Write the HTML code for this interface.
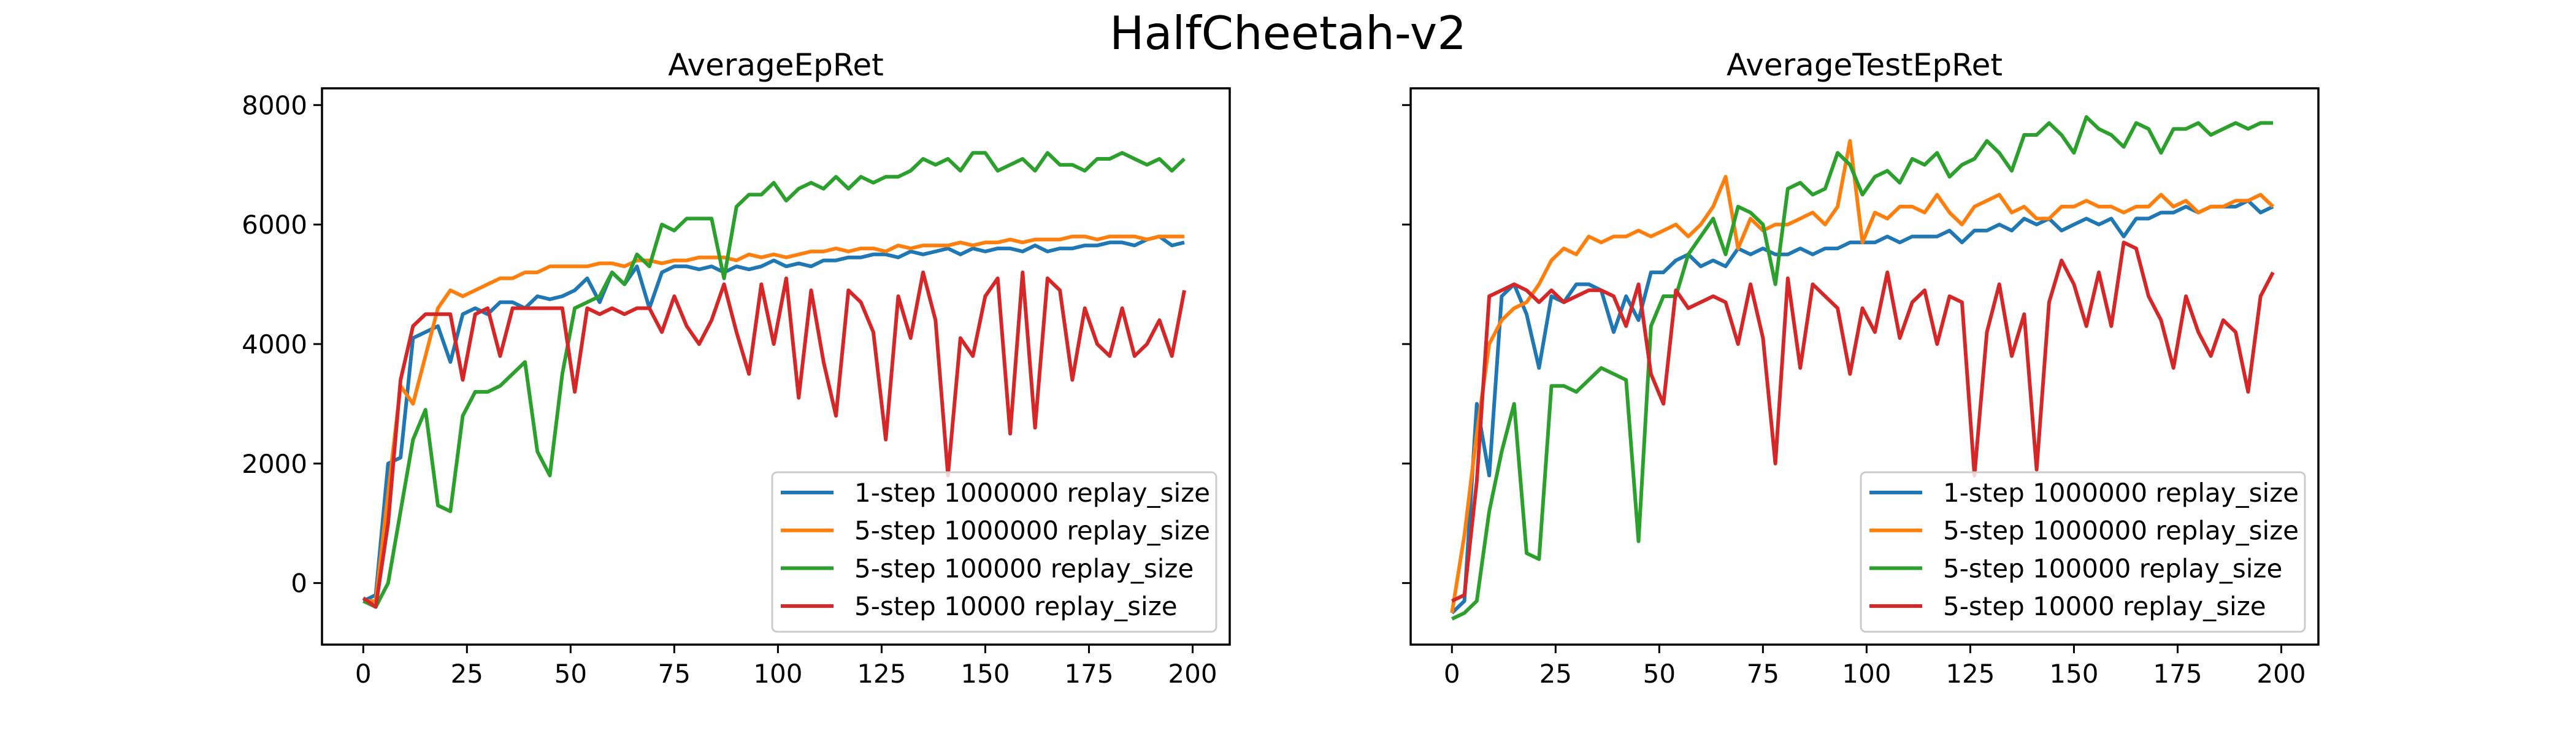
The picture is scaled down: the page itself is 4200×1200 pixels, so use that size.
<!DOCTYPE html>
<html><head><meta charset="utf-8"><style>
html,body{margin:0;padding:0;background:#fff;}
svg{display:block;font-family:"DejaVu Sans","Liberation Sans",sans-serif;}
</style></head><body>
<svg id="chart" width="4200" height="1200" viewBox="0 0 4200 1200" xmlns="http://www.w3.org/2000/svg">
<rect width="4200" height="1200" fill="#fff"/>
<text x="2100" y="80" font-size="75" text-anchor="middle">HalfCheetah-v2</text>
</svg>
<script>
const xs = [0,3,6,9,12,15,18,21,24,27,30,33,36,39,42,45,48,51,54,57,60,63,66,69,72,75,78,81,84,87,90,93,96,99,102,105,108,111,114,117,120,123,126,129,132,135,138,141,144,147,150,153,156,159,162,165,168,171,174,177,180,183,186,189,192,195,198];
const seriesNames = ["1-step 1000000 replay_size","5-step 1000000 replay_size","5-step 100000 replay_size","5-step 10000 replay_size"];
const colors = ["#1f77b4","#ff7f0e","#2ca02c","#d62728"];
const yTicks = [0,2000,4000,6000,8000];
const xTicks = [0,25,50,75,100,125,150,175,200];
const trainBlue = [-300,-200,2000,2100,4100,4200,4300,3700,4500,4600,4500,4700,4700,4600,4800,4750,4800,4900,5100,4700,5200,5000,5300,4600,5200,5300,5300,5250,5300,5200,5300,5250,5300,5400,5300,5350,5300,5400,5400,5450,5450,5500,5500,5450,5550,5500,5550,5600,5500,5600,5550,5600,5600,5550,5650,5550,5600,5600,5650,5650,5700,5700,5650,5750,5800,5650,5700];
const trainOrange = [-300,-300,1500,3300,3000,3800,4600,4900,4800,4900,5000,5100,5100,5200,5200,5300,5300,5300,5300,5350,5350,5300,5400,5400,5350,5400,5400,5450,5450,5450,5400,5500,5450,5500,5450,5500,5550,5550,5600,5550,5600,5600,5550,5650,5600,5650,5650,5650,5700,5650,5700,5700,5750,5700,5750,5750,5750,5800,5800,5750,5800,5800,5800,5750,5800,5800,5800];
const trainGreen = [-300,-400,0,1200,2400,2900,1300,1200,2800,3200,3200,3300,3500,3700,2200,1800,3500,4600,4700,4800,5200,5000,5500,5300,6000,5900,6100,6100,6100,5100,6300,6500,6500,6700,6400,6600,6700,6600,6800,6600,6800,6700,6800,6800,6900,7100,7000,7100,6900,7200,7200,6900,7000,7100,6900,7200,7000,7000,6900,7100,7100,7200,7100,7000,7100,6900,7100];
const trainRed = [-250,-400,1000,3400,4300,4500,4500,4500,3400,4500,4600,3800,4600,4600,4600,4600,4600,3200,4600,4500,4600,4500,4600,4600,4200,4800,4300,4000,4400,5000,4200,3500,5000,4000,5100,3100,4900,3700,2800,4900,4700,4200,2400,4800,4100,5200,4400,1800,4100,3800,4800,5100,2500,5200,2600,5100,4900,3400,4600,4000,3800,4600,3800,4000,4400,3800,4900];
const testBlue = [-500,-300,3000,1800,4800,5000,4500,3600,4800,4700,5000,5000,4900,4200,4800,4400,5200,5200,5400,5500,5300,5400,5300,5600,5500,5600,5500,5500,5600,5500,5600,5600,5700,5700,5700,5800,5700,5800,5800,5800,5900,5700,5900,5900,6000,5900,6100,6000,6100,5900,6000,6100,6000,6100,5800,6100,6100,6200,6200,6300,6200,6300,6300,6300,6400,6200,6300];
const testOrange = [-500,800,2500,4000,4400,4600,4700,5000,5400,5600,5500,5800,5700,5800,5800,5900,5800,5900,6000,5800,6000,6300,6800,5600,6100,5900,6000,6000,6100,6200,6000,6300,7400,5700,6200,6100,6300,6300,6200,6500,6200,6000,6300,6400,6500,6200,6300,6100,6100,6300,6300,6400,6300,6300,6200,6300,6300,6500,6300,6400,6200,6300,6300,6400,6400,6500,6300];
const testGreen = [-600,-500,-300,1200,2200,3000,500,400,3300,3300,3200,3400,3600,3500,3400,700,4300,4800,4800,5500,5800,6100,5500,6300,6200,6000,5000,6600,6700,6500,6600,7200,7000,6500,6800,6900,6700,7100,7000,7200,6800,7000,7100,7400,7200,6900,7500,7500,7700,7500,7200,7800,7600,7500,7300,7700,7600,7200,7600,7600,7700,7500,7600,7700,7600,7700,7700];
const testRed = [-300,-200,1700,4800,4900,5000,4900,4700,4900,4700,4800,4900,4900,4800,4300,5000,3500,3000,4900,4600,4700,4800,4700,4000,5000,4100,2000,5100,3600,5000,4800,4600,3500,4600,4200,5200,4100,4700,4900,4000,4800,4700,1800,4200,5000,3800,4500,1900,4700,5400,5000,4300,5200,4300,5700,5600,4800,4400,3600,4800,4200,3800,4400,4200,3200,4800,5200];

const svg = document.getElementById('chart');
const NS = 'http://www.w3.org/2000/svg';
function mk(tag, attrs, parent){ const e=document.createElementNS(NS,tag); for(const k in attrs) e.setAttribute(k,attrs[k]); (parent||svg).appendChild(e); return e; }

function drawPanel(left, right, title, data, showYLabels, prefix){
  const top=144, bottom=1051, xmin=-9.95, xmax=208.95, ymin=-1030, ymax=8280;
  const sx = v => left + (v - xmin)/(xmax - xmin)*(right-left);
  const sy = v => bottom - (v - ymin)/(ymax - ymin)*(bottom-top);
  const g = mk('g',{});
  
  
  const t = mk('text',{x:(left+right)/2, y:123, 'font-size':50, 'text-anchor':'middle'}, g);
  t.textContent = title;
  
  
  data.forEach((vals, i) => {
    const p = mk('polyline',{points: vals.map((v,j)=>sx(xs[j]).toFixed(1)+','+sy(v).toFixed(1)).join(' '), fill:'none', stroke:colors[i], 'stroke-width':6, 'stroke-linejoin':'round'}, g);
    
    
  });
  const frame = mk('rect',{x:left, y:top, width:right-left, height:bottom-top, fill:'none', stroke:'#000', 'stroke-width':3.5}, g);
  
  
  xTicks.forEach(v => {
    const x = sx(v);
    const tk = mk('line',{x1:x, x2:x, y1:bottom, y2:bottom+14, stroke:'#000', 'stroke-width':3}, g);
    
    
    const lb = mk('text',{x:x, y:bottom+62, 'font-size':42, 'text-anchor':'middle'}, g);
    lb.textContent = v;
    
    
  });
  yTicks.forEach(v => {
    const y = sy(v);
    const tk = mk('line',{x1:left-14, x2:left, y1:y, y2:y, stroke:'#000', 'stroke-width':3}, g);
    
    
    if(showYLabels){
      const lb = mk('text',{x:left-24, y:y+15, 'font-size':42, 'text-anchor':'end'}, g);
      lb.textContent = v;
      
      
    }
  });
  const lx = right-746, ly = 770;
  const box = mk('rect',{x:lx, y:ly, width:724, height:260, rx:8, fill:'#fff', 'fill-opacity':0.8, stroke:'#ccc', 'stroke-width':3}, g);
  
  
  seriesNames.forEach((n,i) => {
    const y = 803 + i*61.7;
    const h = mk('line',{x1:lx+14, x2:lx+100, y1:y, y2:y, stroke:colors[i], 'stroke-width':6}, g);
    
    
    const tx = mk('text',{x:lx+134, y:y+15, 'font-size':42}, g);
    tx.textContent = n;
    
    
  });
}
drawPanel(525, 2005, 'AverageEpRet', [trainBlue,trainOrange,trainGreen,trainRed], true, 'train');
drawPanel(2300, 3780, 'AverageTestEpRet', [testBlue,testOrange,testGreen,testRed], false, 'test');
</script>
</body></html>
